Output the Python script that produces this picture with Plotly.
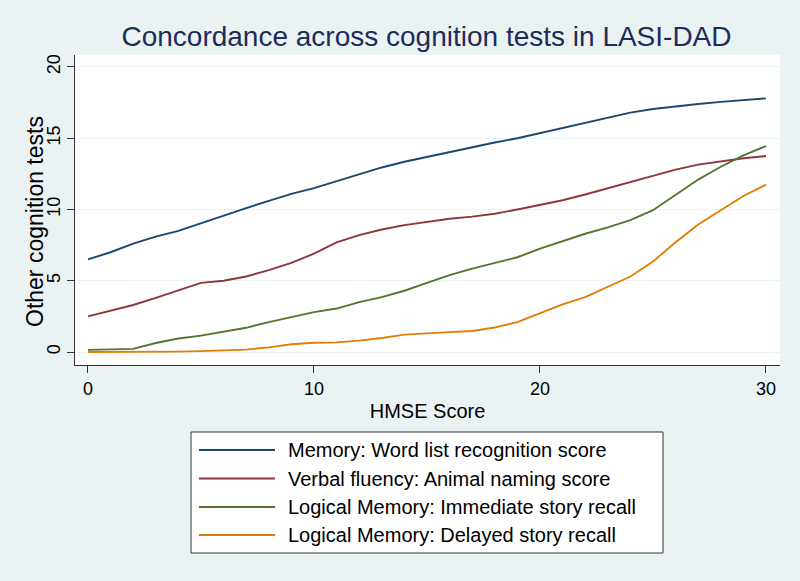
import plotly.graph_objects as go

hmse = list(range(0, 31))
memory_word = [6.5, 7.0, 7.6, 8.1, 8.5, 9.05, 9.6, 10.1, 10.6, 11.1, 11.5, 12.0, 12.45, 12.95, 13.35, 13.7,
               14.0, 14.35, 14.7, 15.0, 15.35, 15.7, 16.1, 16.45, 16.8, 17.05, 17.25, 17.4, 17.55, 17.7, 17.8]
verbal_fluency = [2.5, 2.9, 3.3, 3.8, 4.35, 4.85, 5.0, 5.3, 5.75, 6.25, 6.9, 7.7, 8.2, 8.6, 8.9, 9.15,
                  9.35, 9.5, 9.7, 10.0, 10.3, 10.65, 11.05, 11.5, 11.95, 12.4, 12.8, 13.15, 13.4, 13.6, 13.75]
immediate_recall = [0.15, 0.18, 0.22, 0.63, 0.95, 1.15, 1.4, 1.7, 2.1, 2.45, 2.8, 3.05, 3.5, 3.85, 4.3, 4.85,
                    5.4, 5.85, 6.25, 6.65, 7.25, 7.8, 8.3, 8.75, 9.25, 9.95, 11.0, 12.1, 13.0, 13.8, 14.45]
delayed_recall = [0.0, 0.0, 0.02, 0.03, 0.03, 0.06, 0.1, 0.17, 0.33, 0.55, 0.65, 0.68, 0.8, 0.98, 1.22, 1.33,
                  1.4, 1.48, 1.72, 2.1, 2.7, 3.35, 3.85, 4.55, 5.3, 6.35, 7.7, 8.95, 9.95, 10.95, 11.75]

series_names = ["Memory: Word list recognition score",
                "Verbal fluency: Animal naming score",
                "Logical Memory: Immediate story recall",
                "Logical Memory: Delayed story recall"]
series_values = [memory_word, verbal_fluency, immediate_recall, delayed_recall]
colors = ["#1a476f", "#90353b", "#55752f", "#e37e00"]

x_ticks = [0, 10, 20, 30]
y_ticks = [0, 5, 10, 15, 20]

BG = "#eaf2f3"
FONT = "Liberation Sans, Arial, Helvetica, sans-serif"
W, H = 800, 581
ML, MR, MT, MB = 75, 20, 55, 216
PW, PH = W - ML - MR, H - MT - MB


def px(x):
    return (x - ML) / PW


def py(y):
    return (H - MB - y) / PH


fig = go.Figure()
for name, vals, col in zip(series_names, series_values, colors):
    fig.add_trace(go.Scatter(x=hmse, y=vals, mode="lines", name=name,
                             line=dict(color=col, width=1.9), showlegend=False))

# Custom legend (Stata style, long line samples)
shapes = [dict(type="rect", xref="paper", yref="paper",
               x0=px(191), x1=px(663), y0=py(553), y1=py(432),
               fillcolor="white", line=dict(color="#333333", width=1), layer="above")]
annotations = []
row_y = [450, 478.5, 507, 535]
for name, col, ry in zip(series_names, colors, row_y):
    shapes.append(dict(type="line", xref="paper", yref="paper",
                       x0=px(199), x1=px(275), y0=py(ry), y1=py(ry),
                       line=dict(color=col, width=1.9), layer="above"))
    annotations.append(dict(text=name, xref="paper", yref="paper",
                            x=px(286), y=py(ry), xanchor="left", yanchor="middle",
                            showarrow=False, font=dict(size=20, family=FONT, color="black")))

# Y-axis title as a rotated annotation (Stata places it slightly below centre)
annotations.append(dict(text="Other cognition tests", xref="paper", yref="paper",
                        x=px(35), y=py(222), xanchor="center", yanchor="middle",
                        textangle=-90, showarrow=False,
                        font=dict(size=23, family=FONT, color="black")))

fig.update_layout(
    width=W, height=H,
    paper_bgcolor=BG, plot_bgcolor="white",
    font=dict(family=FONT, color="black"),
    margin=dict(l=ML, r=MR, t=MT, b=MB, autoexpand=False),
    title=dict(text="Concordance across cognition tests in LASI-DAD",
               xref="paper", x=px(426.5), xanchor="center",
               yref="container", y=1 - 36 / H, yanchor="middle", automargin=False,
               font=dict(size=28, color="#1c2d5a", family=FONT)),
    showlegend=False,
    shapes=shapes,
    annotations=annotations,
    xaxis=dict(range=[-0.575, 30.62], tickvals=x_ticks, ticks="outside", ticklen=7,
               tickcolor="#333333", showline=True, linecolor="#333333", linewidth=1,
               showgrid=False, zeroline=False, tickfont=dict(size=18), automargin=False,
               title=dict(text="HMSE Score", font=dict(size=20), standoff=6)),
    yaxis=dict(range=[-0.91, 20.84], tickvals=y_ticks, ticks="outside", ticklen=7,
               tickcolor="#333333", showline=True, linecolor="#333333", linewidth=1,
               showgrid=True, gridcolor=BG, gridwidth=1.2, zeroline=False,
               tickangle=-90, tickfont=dict(size=18), automargin=False),
)

fig.write_html("out.html", config={"displayModeBar": False},
               post_script="document.body.style.margin='0';document.body.style.overflow='hidden';")
